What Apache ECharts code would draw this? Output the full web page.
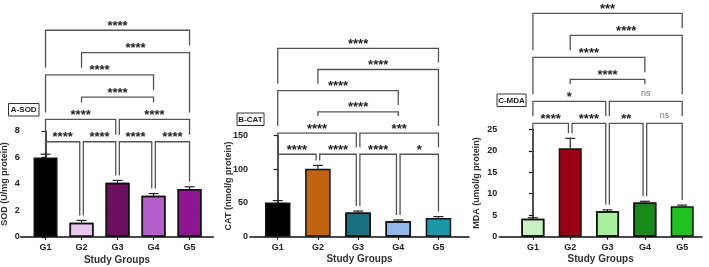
<!DOCTYPE html>
<html>
<head>
<meta charset="utf-8">
<script src="https://cdn.jsdelivr.net/npm/echarts@6/dist/echarts.min.js"></script>
<style>
  html, body { margin: 0; background: #fff; }
  #chart { width: 709px; height: 267px; }
</style>
</head>
<body>
<div id="chart"></div>
<script>
// groups on the x axis
const groups = ['G1', 'G2', 'G3', 'G4', 'G5'];

// A - SOD (U/mg protein), mean and SD
const sodMean = [6.0, 1.08, 4.1, 3.12, 3.62];
const sodSd = [0.25, 0.17, 0.17, 0.16, 0.17];
// B - CAT (nmol/g protein)
const catMean = [50.8, 100.8, 36, 22.8, 27.8];
const catSd = [2.8, 5, 2, 2, 2];
// C - MDA (umol/g protein)
const mdaMean = [4.15, 20.6, 5.95, 7.95, 7.1];
const mdaSd = [0.25, 2.3, 0.3, 0.3, 0.25];

// pairwise comparisons and their significance labels
const pairs = [[0, 1], [1, 2], [2, 3], [3, 4], [0, 2], [2, 4], [1, 3], [0, 3], [1, 4], [0, 4]];
const pairLevels = [0, 0, 0, 0, 1, 1, 2, 3, 4, 5];
const sodStars = ['****', '****', '****', '****', '****', '****', '****', '****', '****', '****'];
const catStars = ['****', '****', '****', '*', '****', '***', '****', '****', '****', '****'];
const mdaStars = ['****', '****', '**', 'ns', '*', 'ns', '****', '****', '****', '***'];

const sodColors = ['#000000', '#e9c6ee', '#6c0e5e', '#b35fcb', '#8c168f'];
const catColors = ['#000000', '#c0640f', '#176f80', '#93b6e8', '#1c97aa'];
const mdaColors = ['#c9f1c1', '#9b0016', '#a9ef9f', '#168a18', '#21c021'];
const sodDotted = [false, true, true, true, true];
const catDotted = [false, false, true, true, false];
const mdaDotted = [true, false, true, true, false];

const panels = [
    {
        mean: sodMean, sd: sodSd, stars: sodStars, colors: sodColors, dotted: sodDotted,
        yMax: 8, yStep: 2, yName: 'SOD (U/mg protein)', tag: 'A-SOD',
        grid: { left: 20.7, top: 131, width: 192.6, height: 106, outerBoundsMode: 'none' },
        xMin: -0.69, xMax: 4.66, barWidth: 24, base: 7.19, step: 1.683, labelMargin: 1,
        namePos: [4.2, 184], box: [8.5, 103.5, 30.5, 12.5],
    },
    {
        mean: catMean, sd: catSd, stars: catStars, colors: catColors, dotted: catDotted,
        yMax: 150, yStep: 50, yName: 'CAT (nmol/g protein)', tag: 'B-CAT',
        grid: { left: 250, top: 135.6, width: 219, height: 101.1, outerBoundsMode: 'none' },
        xMin: -0.69, xMax: 4.76, barWidth: 25.5, base: 122.3, step: 31.45, labelMargin: 2,
        namePos: [228.5, 186], box: [237, 113, 27, 12.5],
    },
    {
        mean: mdaMean, sd: mdaSd, stars: mdaStars, colors: mdaColors, dotted: mdaDotted,
        yMax: 25, yStep: 5, yName: 'MDA (umol/g protein)', tag: 'C-MDA',
        grid: { left: 499.3, top: 129.3, width: 202.7, height: 107.4, outerBoundsMode: 'none' },
        xMin: -0.9, xMax: 4.53, barWidth: 23, base: 26.4, step: 5.12, labelMargin: 2,
        namePos: [476.5, 183], box: [497, 94, 29, 12.5],
    },
];

const FONT = '"Liberation Sans", Arial, sans-serif';
const lineColor = '#555';
const dotDecal = {
    symbol: 'circle', symbolSize: 0.5, dashArrayX: [[1, 1.5]], dashArrayY: [1, 1.5],
    color: 'rgba(255,255,255,0.22)', rotation: 0,
};

const labelHalfWidth = s => (s === 'ns' ? 6 : s.length * 2.6 + 2);

// geometry of all brackets of one panel, in pixels
function bracketGeometry(p, api) {
    const gx = g => api.coord([g, 0])[0];
    const yOf = v => api.coord([0, v])[1];
    const list = pairs.map((pr, i) => {
        const lvl = pairLevels[i];
        const shared = g => pairs.some((q, j) => j !== i && pairLevels[j] === lvl && (q[0] === g || q[1] === g));
        const x1 = gx(pr[0]) + (shared(pr[0]) ? 1.8 : 0);
        const x2 = gx(pr[1]) - (shared(pr[1]) ? 1.8 : 0);
        return { i, pr, x1, x2, hy: yOf(p.base + p.step * lvl), label: p.stars[i] };
    });
    list.forEach(b => {
        b.lx = (b.x1 + b.x2) / 2;
        b.hw = labelHalfWidth(b.label);
    });
    const legBottom = (b, x, g) => {
        let y = yOf(p.mean[g] + p.sd[g]) - 5;
        list.forEach(o => {
            if (o === b || o.hy <= b.hy + 1) return;
            if (x >= o.x1 - 0.6 && x <= o.x2 + 0.6) y = Math.min(y, o.hy - 7);
            if (Math.abs(x - o.lx) < o.hw) y = Math.min(y, o.hy - 17);
        });
        return y;
    };
    list.forEach(b => {
        b.y1 = legBottom(b, b.x1, b.pr[0]);
        b.y2 = legBottom(b, b.x2, b.pr[1]);
    });
    return list;
}

const grids = [], xAxes = [], yAxes = [], series = [], graphics = [];

panels.forEach((p, k) => {
    grids.push(p.grid);
    xAxes.push({
        type: 'value', gridIndex: k, min: p.xMin, max: p.xMax,
        name: 'Study Groups', nameLocation: 'middle', nameGap: 18,
        nameTextStyle: { fontFamily: FONT, fontWeight: 'bold', fontSize: 10, color: '#333' },
        splitLine: { show: false },
        axisLine: { show: true, onZero: false, lineStyle: { color: '#111', width: 1.5 } },
        axisTick: { show: true, length: 3, customValues: [0, 1, 2, 3, 4], lineStyle: { color: '#111', width: 1.2 } },
        axisLabel: {
            customValues: [0, 1, 2, 3, 4], margin: 6,
            formatter: v => groups[v],
            fontFamily: FONT, fontWeight: 'bold', fontSize: 9, color: '#222',
        },
    });
    yAxes.push({
        type: 'value', gridIndex: k, min: 0, max: p.yMax, interval: p.yStep,
        splitLine: { show: false },
        axisLine: { show: true, lineStyle: { color: '#111', width: 1.5 } },
        axisTick: { show: true, length: 4, lineStyle: { color: '#111', width: 1.2 } },
        axisLabel: {
            margin: p.labelMargin, hideOverlap: false,
            fontFamily: FONT, fontWeight: 'bold', fontSize: 9, color: '#222',
        },
    });

    series.push({
        type: 'bar', xAxisIndex: k, yAxisIndex: k, barWidth: p.barWidth,
        data: p.mean.map((m, i) => {
            const itemStyle = { color: p.colors[i], borderColor: '#111', borderWidth: 1.5 };
            if (p.dotted[i]) itemStyle.decal = dotDecal;
            return { value: [i, m], itemStyle };
        }),
        silent: true, animation: false,
    });

    // error bars (mean + SD)
    series.push({
        type: 'custom', xAxisIndex: k, yAxisIndex: k, clip: false, z: 3, animation: false, silent: true,
        data: p.mean.map((m, i) => [i, m, m + p.sd[i]]),
        renderItem: (params, api) => {
            const lo = api.coord([api.value(0), api.value(1)]);
            const hi = api.coord([api.value(0), api.value(2)]);
            const st = { stroke: '#222', lineWidth: 1.2 };
            return {
                type: 'group', children: [
                    { type: 'line', shape: { x1: lo[0], y1: lo[1], x2: hi[0], y2: hi[1] }, style: st },
                    { type: 'line', shape: { x1: hi[0] - 5, y1: hi[1], x2: hi[0] + 5, y2: hi[1] }, style: st },
                ],
            };
        },
    });

    // significance brackets
    series.push({
        type: 'custom', xAxisIndex: k, yAxisIndex: k, clip: false, z: 4, animation: false, silent: true,
        data: pairs.map((pr, i) => [pr[0], pr[1], i]),
        renderItem: (params, api) => {
            const b = bracketGeometry(p, api)[params.dataIndex];
            const ns = b.label === 'ns';
            return {
                type: 'group', children: [
                    {
                        type: 'polyline',
                        shape: { points: [[b.x1, b.y1], [b.x1, b.hy], [b.x2, b.hy], [b.x2, b.y2]] },
                        style: { stroke: lineColor, lineWidth: 1.3, fill: null },
                    },
                    {
                        type: 'text',
                        style: {
                            text: b.label, x: b.lx, y: ns ? b.hy - 7.5 : b.hy - 4,
                            align: 'center', verticalAlign: 'middle',
                            font: ns ? `9px ${FONT}` : `bold 13px ${FONT}`,
                            fill: ns ? '#777' : '#222',
                        },
                    },
                ],
            };
        },
    });

    // rotated y-axis title
    graphics.push({
        type: 'text', x: p.namePos[0], y: p.namePos[1], rotation: Math.PI / 2,
        style: { text: p.yName, align: 'center', verticalAlign: 'middle', font: `bold 9px ${FONT}`, fill: '#333' },
    });
    // panel tag box
    graphics.push({
        type: 'rect', shape: { x: p.box[0], y: p.box[1], width: p.box[2], height: p.box[3] },
        style: { fill: '#fff', stroke: '#333', lineWidth: 1 },
    });
    graphics.push({
        type: 'text', x: p.box[0] + p.box[2] / 2, y: p.box[1] + p.box[3] / 2 + 0.5,
        style: { text: p.tag, align: 'center', verticalAlign: 'middle', font: `bold 8px ${FONT}`, fill: '#222' },
    });
});

const chart = echarts.init(document.getElementById('chart'));
chart.setOption({
    animation: false,
    grid: grids,
    xAxis: xAxes,
    yAxis: yAxes,
    series: series,
    graphic: graphics,
});
</script>
</body>
</html>
